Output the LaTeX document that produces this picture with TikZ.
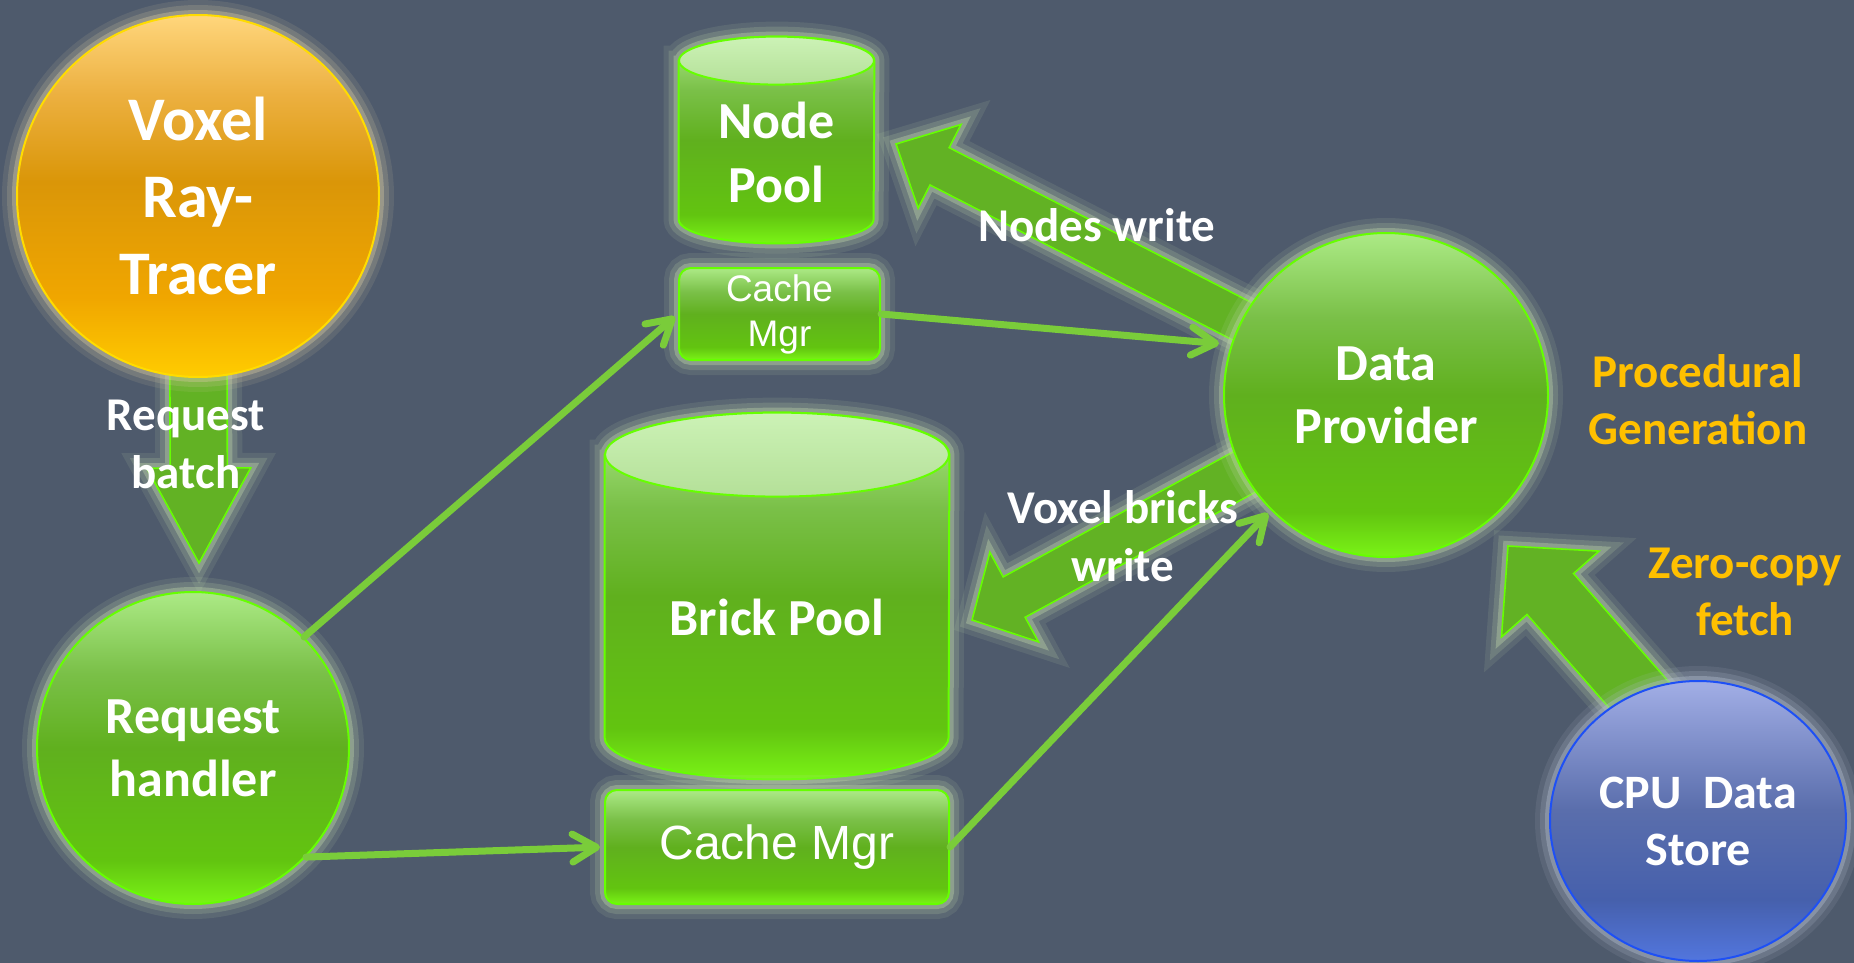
\documentclass[tikz,border=0pt]{standalone}
\usepackage{fontspec}
\setmainfont{Carlito}
\newfontfamily\arialfont{Liberation Sans}
\usetikzlibrary{calc,arrows.meta,shapes.geometric}
\definecolor{slateBg}{RGB}{78,90,108}
\definecolor{gnTop}{RGB}{172,234,134}
\definecolor{gnUp}{RGB}{122,192,72}
\definecolor{gnMid}{RGB}{96,176,30}
\definecolor{gnLow}{RGB}{98,196,16}
\definecolor{gnBot}{RGB}{122,244,22}
\definecolor{gnEdge}{RGB}{102,255,0}
\definecolor{gnGlow}{RGB}{188,212,168}
\definecolor{orTop}{RGB}{255,214,124}
\definecolor{orUp}{RGB}{236,176,64}
\definecolor{orMid}{RGB}{218,150,8}
\definecolor{orLow}{RGB}{240,166,0}
\definecolor{orBot}{RGB}{255,204,0}
\definecolor{orEdge}{RGB}{255,220,0}
\definecolor{orGlow}{RGB}{210,198,160}
\definecolor{blTop}{RGB}{162,174,230}
\definecolor{blMid}{RGB}{90,110,172}
\definecolor{blLow}{RGB}{70,96,172}
\definecolor{blBot}{RGB}{82,118,222}
\definecolor{blEdge}{RGB}{30,80,245}
\definecolor{blGlow}{RGB}{178,188,206}
\definecolor{cylLid}{RGB}{204,242,182}
\definecolor{cylLidLow}{RGB}{180,224,152}
\definecolor{wireGreen}{RGB}{122,204,58}
\definecolor{bkFill}{RGB}{98,178,36}
\definecolor{labelOrange}{RGB}{255,192,0}

\pgfdeclareverticalshading{greenGlass}{100bp}{color(0bp)=(gnBot); color(25bp)=(gnBot); color(32bp)=(gnLow); color(50bp)=(gnMid); color(62bp)=(gnUp); color(75bp)=(gnTop); color(100bp)=(gnTop)}
\pgfdeclareverticalshading{orangeGlass}{100bp}{color(0bp)=(orBot); color(25bp)=(orBot); color(36bp)=(orLow); color(52bp)=(orMid); color(64bp)=(orUp); color(75bp)=(orTop); color(100bp)=(orTop)}
\pgfdeclareverticalshading{blueGlass}{100bp}{color(0bp)=(blBot); color(25bp)=(blBot); color(36bp)=(blLow); color(52bp)=(blMid); color(75bp)=(blTop); color(100bp)=(blTop)}

\pgfdeclarelayer{back}
\pgfdeclarelayer{mid}
\pgfsetlayers{back,mid,main}

\tikzset{
  glowGreen/.style={preaction={draw=gnGlow,line width=15pt,draw opacity=.12},preaction={draw=gnGlow,line width=10pt,draw opacity=.2},preaction={draw=gnGlow,line width=5pt,draw opacity=.4}},
  glowOrange/.style={preaction={draw=orGlow,line width=15pt,draw opacity=.12},preaction={draw=orGlow,line width=10pt,draw opacity=.2},preaction={draw=orGlow,line width=5pt,draw opacity=.4}},
  glowBlue/.style={preaction={draw=blGlow,line width=15pt,draw opacity=.12},preaction={draw=blGlow,line width=10pt,draw opacity=.2},preaction={draw=blGlow,line width=5pt,draw opacity=.4}},
  globe/.style={circle,inner sep=0pt,align=center,text=white,line width=1pt,font=\bfseries\fontsize{26}{31.5}\selectfont},
  greenBall/.style={globe,shade,shading=greenGlass,draw=gnEdge,glowGreen},
  orangeBall/.style={globe,shade,shading=orangeGlass,draw=orEdge,glowOrange},
  blueBall/.style={globe,ellipse,shade,shading=blueGlass,draw=blEdge,glowBlue,font=\bfseries\fontsize{24}{28.5}\selectfont},
  poolText/.style={rectangle,inner sep=0pt,align=center,text=white,font=\bfseries\fontsize{26}{32}\selectfont},
  cylBody/.style={shade,shading=greenGlass,draw=gnEdge,line width=1pt,glowGreen},
  cylLidStyle/.style={top color=cylLid,bottom color=cylLidLow,draw=gnEdge,line width=1pt},
  cacheBox/.style={rectangle,rounded corners=6pt,inner sep=0pt,align=center,text=white,shade,shading=greenGlass,draw=gnEdge,line width=1pt,glowGreen},
  blockArrow/.style={fill=bkFill,draw=gnEdge,line width=0.8pt,glowGreen},
  wire/.style={draw=wireGreen,line width=3.5pt,line cap=round,shorten >=2pt,-{Straight Barb[length=12pt,width=14pt,line cap=round,line join=round]}},
  flowLabel/.style={align=center,text=white,font=\bfseries\fontsize{23.5}{29}\selectfont},
  noteLabel/.style={align=center,text=labelOrange,font=\bfseries\fontsize{23.5}{28.5}\selectfont}
}

\newcommand\cylpath[3]{%
  \path[cylBody] (#1.north west) -- ([yshift=#3]#1.south west) arc[start angle=180,end angle=360,x radius=#2,y radius=#3] -- (#1.north east) arc[start angle=0,end angle=180,x radius=#2,y radius=#3] -- cycle;
  \path[cylLidStyle] (#1.north) ellipse[x radius=#2,y radius=#3];}

\newcommand\bigarrow[5]{%
  \coordinate (ahBase) at ($(#2)!#5!(#1)$);
  \path[blockArrow] ($(#1)!#3!90:(#2)$) -- ($(ahBase)!#3!-90:(#1)$) -- ($(ahBase)!#4!-90:(#1)$) -- (#2) -- ($(ahBase)!#4!90:(#1)$) -- ($(ahBase)!#3!90:(#1)$) -- ($(#1)!#3!-90:(#2)$) -- cycle;}

\begin{document}
\begin{tikzpicture}[x=0.5pt,y=-0.5pt]
\begin{pgfonlayer}{back}
\fill[slateBg] (0,0) rectangle (1854,963);
\end{pgfonlayer}
\useasboundingbox (0,0) rectangle (1854,963);

\node[orangeBall,minimum size=181pt,font=\bfseries\fontsize{31}{38.5}\selectfont] (vrt) at (198,196) {Voxel\\Ray-\\Tracer};
\node[greenBall,minimum size=156pt] (rh) at (193,748) {Request\\handler};
\node[greenBall,minimum size=162pt] (dp) at (1386,395) {Data\\Provider};
\node[blueBall,minimum width=148pt,minimum height=140pt] (cpu) at (1698,821) {CPU\ \ Data\\Store};

\node[poolText,minimum width=97.5pt,minimum height=91pt] (np) at (776.5,152) {Node\\Pool};
\node[poolText,minimum width=172pt,minimum height=162pt] (bp) at (777,617) {Brick Pool};
\node[cacheBox,minimum width=100.5pt,minimum height=46pt,font=\arialfont\fontsize{18.5}{22.5}\selectfont] (cms) at (779.5,314) {Cache\\Mgr};
\node[cacheBox,minimum width=172pt,minimum height=57pt,font=\arialfont\fontsize{24}{28}\selectfont] (cmb) at (777,847) {Cache Mgr};

\begin{pgfonlayer}{mid}
\cylpath{np}{48.75pt}{12pt}
\cylpath{bp}{86pt}{21pt}
\end{pgfonlayer}

\coordinate (rbTip) at (199,563);
\coordinate (nwTip) at (896,144);
\coordinate (vbTip) at (972,620);
\coordinate (zcTip) at (1508,546);
\coordinate (zcTail) at ([xshift=26pt]cpu.center);

\begin{pgfonlayer}{back}
\bigarrow{vrt.center}{rbTip}{14.3pt}{26pt}{47.5pt}
\bigarrow{dp.center}{nwTip}{10.5pt}{23.5pt}{24.5pt}
\bigarrow{dp.center}{vbTip}{11.5pt}{25.5pt}{24pt}
\bigarrow{zcTail}{zcTip}{15.5pt}{32.5pt}{32pt}
\end{pgfonlayer}

\draw[wire] (rh.45) -- (cms.west);
\draw[wire] (rh.-44) -- (cmb.west);
\draw[wire,shorten >=6pt] (cms.east) -- (dp.162);
\draw[wire] (cmb.east) -- (dp.-135);

\node[flowLabel] (rbLabel) at (186,444) {Request\\batch};
\node[flowLabel] (nwLabel) at (1097,225) {Nodes write};
\node[flowLabel] (vbLabel) at (1123,536) {Voxel bricks\\write};
\node[noteLabel] (pgLabel) at (1698,400) {Procedural\\Generation};
\node[noteLabel] (zcLabel) at (1745,592) {Zero-copy\\fetch};
\end{tikzpicture}
\end{document}
